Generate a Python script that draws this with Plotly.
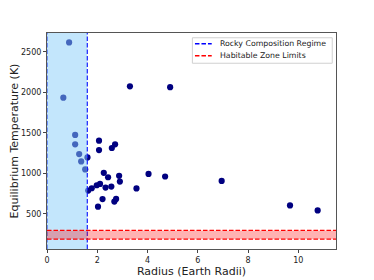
import plotly.graph_objects as go

# Data
radius = [0.88, 0.65, 1.12, 1.12, 1.28, 1.36, 1.52,
          1.61, 1.64, 1.78, 1.98, 2.11, 2.03, 2.21, 2.07, 2.07, 2.58, 2.71,
          2.26, 2.43, 2.33, 2.56, 2.87, 2.90, 2.75, 2.68, 3.30, 3.56, 4.04,
          4.70, 4.90, 6.95, 9.67, 10.77]
temperature = [2615, 1932, 1472, 1356, 1236, 1145, 1046,
               1195, 785, 814, 851, 867, 587, 681, 1401, 1286, 1311, 1356,
               1004, 950, 822, 835, 967, 897, 682, 650, 2072, 812, 991,
               959, 2062, 904, 602, 540]

rocky_limits = [0.0, 1.6]          # Earth radii
habitable_limits = [185, 293]      # K
x_ticks = [0, 2, 4, 6, 8, 10]
y_ticks = [500, 1000, 1500, 2000, 2500]
legend_labels = ["Rocky Composition Regime", "Habitable Zone Limits"]
legend_colors = ["blue", "red"]

FONT = "DejaVu Sans"
DASH = "4.5px,2px"

fig = go.Figure()
fig.add_trace(go.Scatter(
    x=radius, y=temperature, mode="markers",
    marker=dict(color="navy", size=6.2, line=dict(width=0)),
    showlegend=False, hoverinfo="x+y"))

shapes = []
# blue vertical dashed lines (beneath the span)
for xv in rocky_limits:
    shapes.append(dict(type="line", xref="x", yref="paper", x0=xv, x1=xv, y0=0, y1=1,
                       line=dict(color="blue", width=1.3, dash=DASH), layer="above"))
# rocky span
shapes.append(dict(type="rect", xref="x", yref="paper", x0=rocky_limits[0], x1=rocky_limits[1],
                   y0=0, y1=1, fillcolor="rgba(135,206,250,0.5)", line=dict(width=0), layer="above"))
# habitable band
shapes.append(dict(type="rect", xref="paper", yref="y", x0=0, x1=1,
                   y0=habitable_limits[0], y1=habitable_limits[1],
                   fillcolor="rgba(255,0,0,0.3)", line=dict(width=0), layer="above"))
for yv in habitable_limits:
    shapes.append(dict(type="line", xref="paper", yref="y", x0=0, x1=1, y0=yv, y1=yv,
                       line=dict(color="red", width=1.3, dash=DASH), layer="above"))

# legend box (drawn as shapes + text annotations)
shapes.append(dict(type="rect", xref="paper", yref="paper", x0=0.503, x1=0.987, y0=0.860, y1=0.978,
                   fillcolor="rgba(255,255,255,0.85)", line=dict(color="#d0d0d0", width=1),
                   layer="above"))
annotations = []
rows_y = [0.950, 0.895]
for label, color, ry in zip(legend_labels, legend_colors, rows_y):
    shapes.append(dict(type="line", xref="paper", yref="paper", x0=0.512, x1=0.570, y0=ry, y1=ry,
                       line=dict(color=color, width=1.5, dash=DASH), layer="above"))
    annotations.append(dict(xref="paper", yref="paper", x=0.593, y=ry, text=label,
                            showarrow=False, xanchor="left", yanchor="middle",
                            font=dict(family=FONT, size=7.8, color="#222")))

# the page body has an 8px default margin: shrink the figure so the plot lands in place
fig.update_layout(
    width=366, height=272,
    margin=dict(l=39, r=38, t=25, b=31, pad=0),
    paper_bgcolor="white", plot_bgcolor="white",
    font=dict(family=FONT, size=8, color="#222"),
    shapes=shapes, annotations=annotations,
    showlegend=False,
    xaxis=dict(range=[0, 11.5], tickvals=x_ticks, ticks="outside", ticklen=3,
               tickcolor="#444", tickfont=dict(size=8), automargin=False,
               showline=True, mirror=True, linecolor="#555", linewidth=1,
               showgrid=False, zeroline=False,
               title=dict(text="Radius (Earth Radii)", font=dict(size=11), standoff=3)),
    yaxis=dict(range=[64, 2731], tickvals=y_ticks, ticks="outside", ticklen=3,
               tickcolor="#444", tickfont=dict(size=8), automargin=False,
               showline=True, mirror=True, linecolor="#555", linewidth=1,
               showgrid=False, zeroline=False,
               title=dict(text="Equilibrium Temperature (K)", font=dict(size=11), standoff=3)),
)

fig.write_html("out.html")
